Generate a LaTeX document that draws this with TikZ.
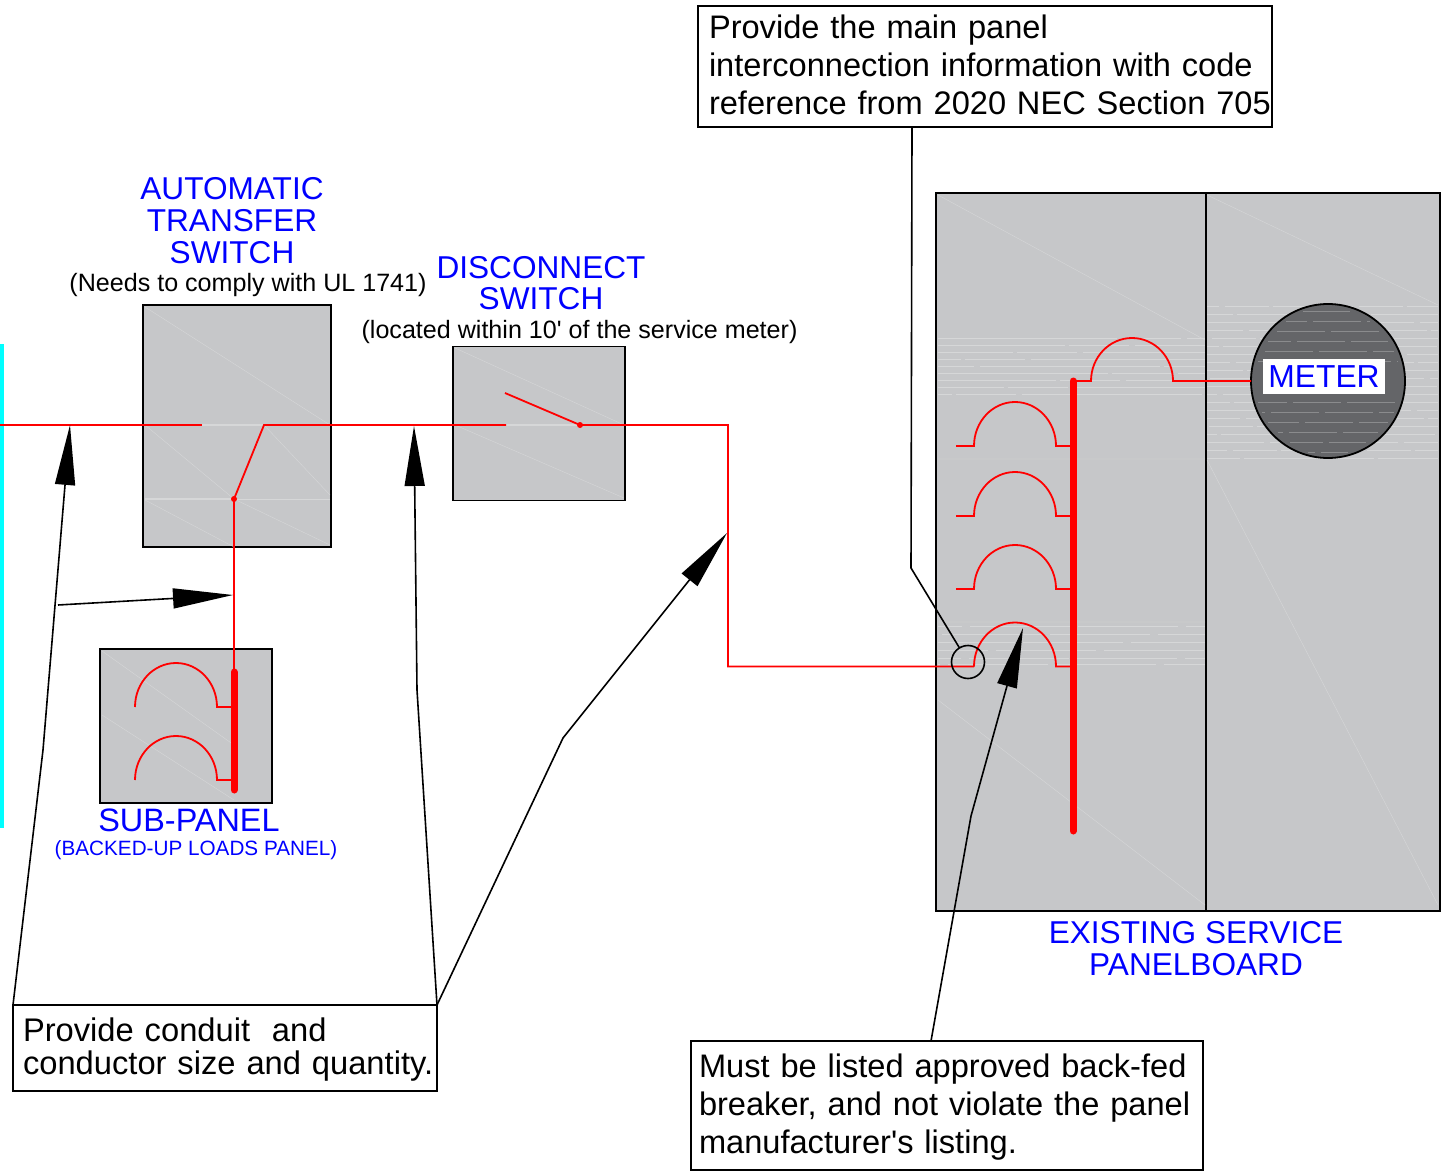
\documentclass[tikz,border=0pt]{standalone}
\usepackage{fontspec}
\setmainfont{Liberation Sans}[Ligatures=TeXOff]
\usetikzlibrary{arrows.meta}
\definecolor{panelgray}{HTML}{C6C7C9}
\definecolor{meterdark}{HTML}{646568}
\definecolor{seamgray}{HTML}{D6D7D8}
\definecolor{edgecyan}{HTML}{00FFFF}
\tikzset{
  box/.style={draw=black,line width=0.9pt,fill=panelgray,inner sep=0pt,outer sep=0pt,anchor=north west},
  note/.style={draw=black,line width=0.8pt,fill=white,outer sep=0pt,anchor=north west,align=left,inner ysep=0pt,font=\fontsize{16.3}{18.9}\selectfont},
  title/.style={text=blue,align=center,inner sep=0pt,font=\fontsize{15.8}{16}\selectfont},
  small/.style={text=black,inner sep=0pt,font=\fontsize{12.55}{15}\selectfont},
  wire/.style={draw=red,line width=0.9pt,line join=miter},
  bus/.style={draw=red,line width=3.5pt,line cap=round},
  dotnode/.style={circle,fill=red,inner sep=0pt,minimum size=3pt},
  seam/.style={draw=seamgray,line width=0.2pt},
  band/.style={draw=seamgray,line width=0.4pt},
  gap/.style={draw=seamgray,line width=1pt},
  leader/.style={draw=black,line width=0.8pt},
  pointer/.style={leader,-{Triangle[length=30pt,width=10pt]}},
}
\begin{document}
\begin{tikzpicture}[x=0.5pt,y=-0.5pt]
\useasboundingbox (0,0) rectangle (1444,1171);
% supply edge
\fill[edgecyan] (0,344) rectangle (4,828);
% enclosures
\node[box,minimum width=94pt,minimum height=121pt] (ats) at (143,305) {};
\node[box,minimum width=86pt,minimum height=77pt] (disc) at (453,346.5) {};
\node[box,minimum width=86pt,minimum height=77pt] (sub) at (100,649) {};
\node[box,minimum width=135pt,minimum height=359pt] (leftpanel) at (936,193) {};
\node[box,minimum width=117pt,minimum height=359pt] (rightpanel) at (1206,193) {};
% faint seams in the fills
\draw[seam] (145,307)--(330,425) (145,425)--(234,499)--(330,545) (264,425)--(330,495) (145,500)--(234,547);
\draw[seam] (234,499)--(330,499);
\draw[gap] (145,499)--(234,499) (202,425)--(264,425) (506,425)--(580,425);
\draw[seam] (455,348)--(624,425) (455,425)--(624,498);
\draw[seam] (102,651)--(234,745) (102,715)--(234,800);
\draw[seam] (938,195)--(1205,340) (938,700)--(1205,905) (1207,195)--(1438,305) (1207,460)--(1438,905) (938,459)--(1205,459) (938,622)--(1205,622);
\foreach \yy in {338,345,352,359,366,373,380,387,394}{
  \draw[band,dash pattern=on 90pt off 2pt on 30pt off 3pt,dash phase=\yy*3.7pt] (938,\yy)--(1205,\yy);
}
\foreach \yy in {306,314,322,330,338,346,354,362,370,378,386,394,402,410,418,426,434,442,450,458}{
  \draw[band,dash pattern=on 40pt off 3pt on 22pt off 2pt,dash phase=\yy*2.3pt] (1207,\yy)--(1438,\yy);
}
\foreach \yy in {626,634,642,650,658,664}{
  \draw[band,dash pattern=on 50pt off 4pt,dash phase=\yy*1.7pt] (938,\yy)--(1205,\yy);
}
% meter
\node[circle,draw=black,line width=0.9pt,fill=meterdark,minimum size=77pt,inner sep=0pt,outer sep=0pt] (meter) at (1328,381) {};
\foreach \yy/\hw in {312/25,322/42,332/52,342/60,352/66,362/70,402/70,412/66,422/60,432/50,442/38,452/20}{
  \draw[draw=white,opacity=0.25,line width=0.5pt,dash pattern=on 24pt off 3pt,dash phase=\yy*1.3pt] (1328-\hw,\yy)--(1328+\hw,\yy);
}
% wires in the transfer switch and disconnect
\coordinate (linein) at (0,425);
\coordinate (ats-a) at (202,425);
\coordinate (ats-b) at (264,425);
\coordinate (ats-load) at (234,499);
\coordinate (disc-a) at (506,425);
\coordinate (disc-arm) at (505,393);
\coordinate (disc-b) at (580,425);
\coordinate (run1) at (728,425);
\coordinate (run2) at (728,666.5);
\coordinate (bf) at (974,666.5);
\draw[wire] (linein)--(ats-a);
\draw[wire] (ats-load)--(ats-b)--(disc-a);
\draw[wire] (disc-arm)--(disc-b)--(run1)--(run2)--(bf);
\draw[wire] (ats-load)--(234,672);
\node[dotnode] (dota) at (ats-load) {};
\node[dotnode] (dotb) at (disc-b) {};
% sub-panel
\draw[wire] (135,707) arc[start angle=180,end angle=0,x radius=20.5pt,y radius=22pt] -- (234,707);
\draw[wire] (135,780) arc[start angle=180,end angle=0,x radius=20.5pt,y radius=22pt] -- (234,780);
\draw[bus] (234,672)--(234,790);
% service panel breakers
\foreach \yy in {446,516,589}{
  \draw[wire] (956,\yy)--(974,\yy) arc[start angle=180,end angle=0,x radius=20.5pt,y radius=22pt] -- (1073,\yy);
}
\draw[wire] (bf) arc[start angle=180,end angle=0,x radius=20.5pt,y radius=22pt] -- (1073,666.5);
\draw[wire] (1073,381)--(1091,381) arc[start angle=180,end angle=0,x radius=20.5pt,y radius=21.5pt] -- (meter.west);
\draw[bus] (1073,381)--(1073,831);
% labels
\node[fill=white,inner xsep=0pt,inner ysep=0pt,minimum width=61pt,minimum height=17pt,text=blue,font=\fontsize{15.9}{18}\selectfont] (meterlabel) at (1324,376.5) {METER};
\node[title] (atstitle) at (232,221) {AUTOMATIC\\TRANSFER\\SWITCH};
\node[small] (atsnote) at (248,285.5) {(Needs to comply with UL 1741)};
\node[title,font=\fontsize{15.8}{15.4}\selectfont] (disctitle) at (541,283.5) {DISCONNECT\\SWITCH};
\node[small] (discnote) at (579.5,332.5) {(located within 10' of the service meter)};
\node[title,font=\fontsize{16.2}{16}\selectfont] (subtitle) at (189,820.5) {SUB-PANEL};
\node[text=blue,inner sep=0pt,font=\fontsize{10.35}{12}\selectfont] (subnote) at (196,850) {(BACKED-UP LOADS PANEL)};
\node[title] (paneltitle) at (1196,948.5) {EXISTING SERVICE\\PANELBOARD};
% notes
\node[note,inner xsep=5.5pt,text width=276pt,minimum height=60.5pt] (topnote) at (698,6) {\mbox{Provide the main panel}\\\mbox{interconnection information with code}\\\mbox{\rule[-2pt]{0pt}{2pt}reference from 2020 NEC Section 705}};
\node[note,inner xsep=5pt,text width=202pt,minimum height=43pt,font=\fontsize{16.35}{16.5}\selectfont] (leftnote) at (13,1005) {\mbox{\rule{0pt}{13.5pt}Provide conduit\ \ and}\\\mbox{conductor size and quantity.}};
\node[note,inner xsep=4pt,text width=248pt,minimum height=64.5pt,font=\fontsize{16.3}{19}\selectfont] (bottomnote) at (691,1041) {\mbox{\rule{0pt}{13.5pt}Must be listed approved back-fed}\\\mbox{breaker, and not violate the panel}\\\mbox{manufacturer's listing.}};
% leaders
\node[circle,draw=black,line width=0.8pt,minimum size=16.5pt,inner sep=0pt,outer sep=0pt] (tap) at (968,662) {};
\coordinate (topx) at (912,0);
\draw[leader] (topnote.south -| topx)--(911,568)--(tap);
\coordinate (tip1) at (70,425);
\coordinate (tip2) at (414,426);
\coordinate (tip3) at (727,533);
\coordinate (tip4) at (1023,628);
\coordinate (tip5) at (233,595);
\coordinate (free5) at (58,605);
\coordinate (bottomx) at (931,0);
\draw[pointer] (leftnote.north west)--(43,750)--(tip1);
\draw[pointer] (leftnote.north east)--(417,690)--(tip2);
\draw[pointer] (leftnote.north east)--(563,738)--(tip3);
\draw[pointer] (free5)--(tip5);
\draw[pointer] (bottomnote.north -| bottomx)--(971,816)--(tip4);
\end{tikzpicture}
\end{document}
